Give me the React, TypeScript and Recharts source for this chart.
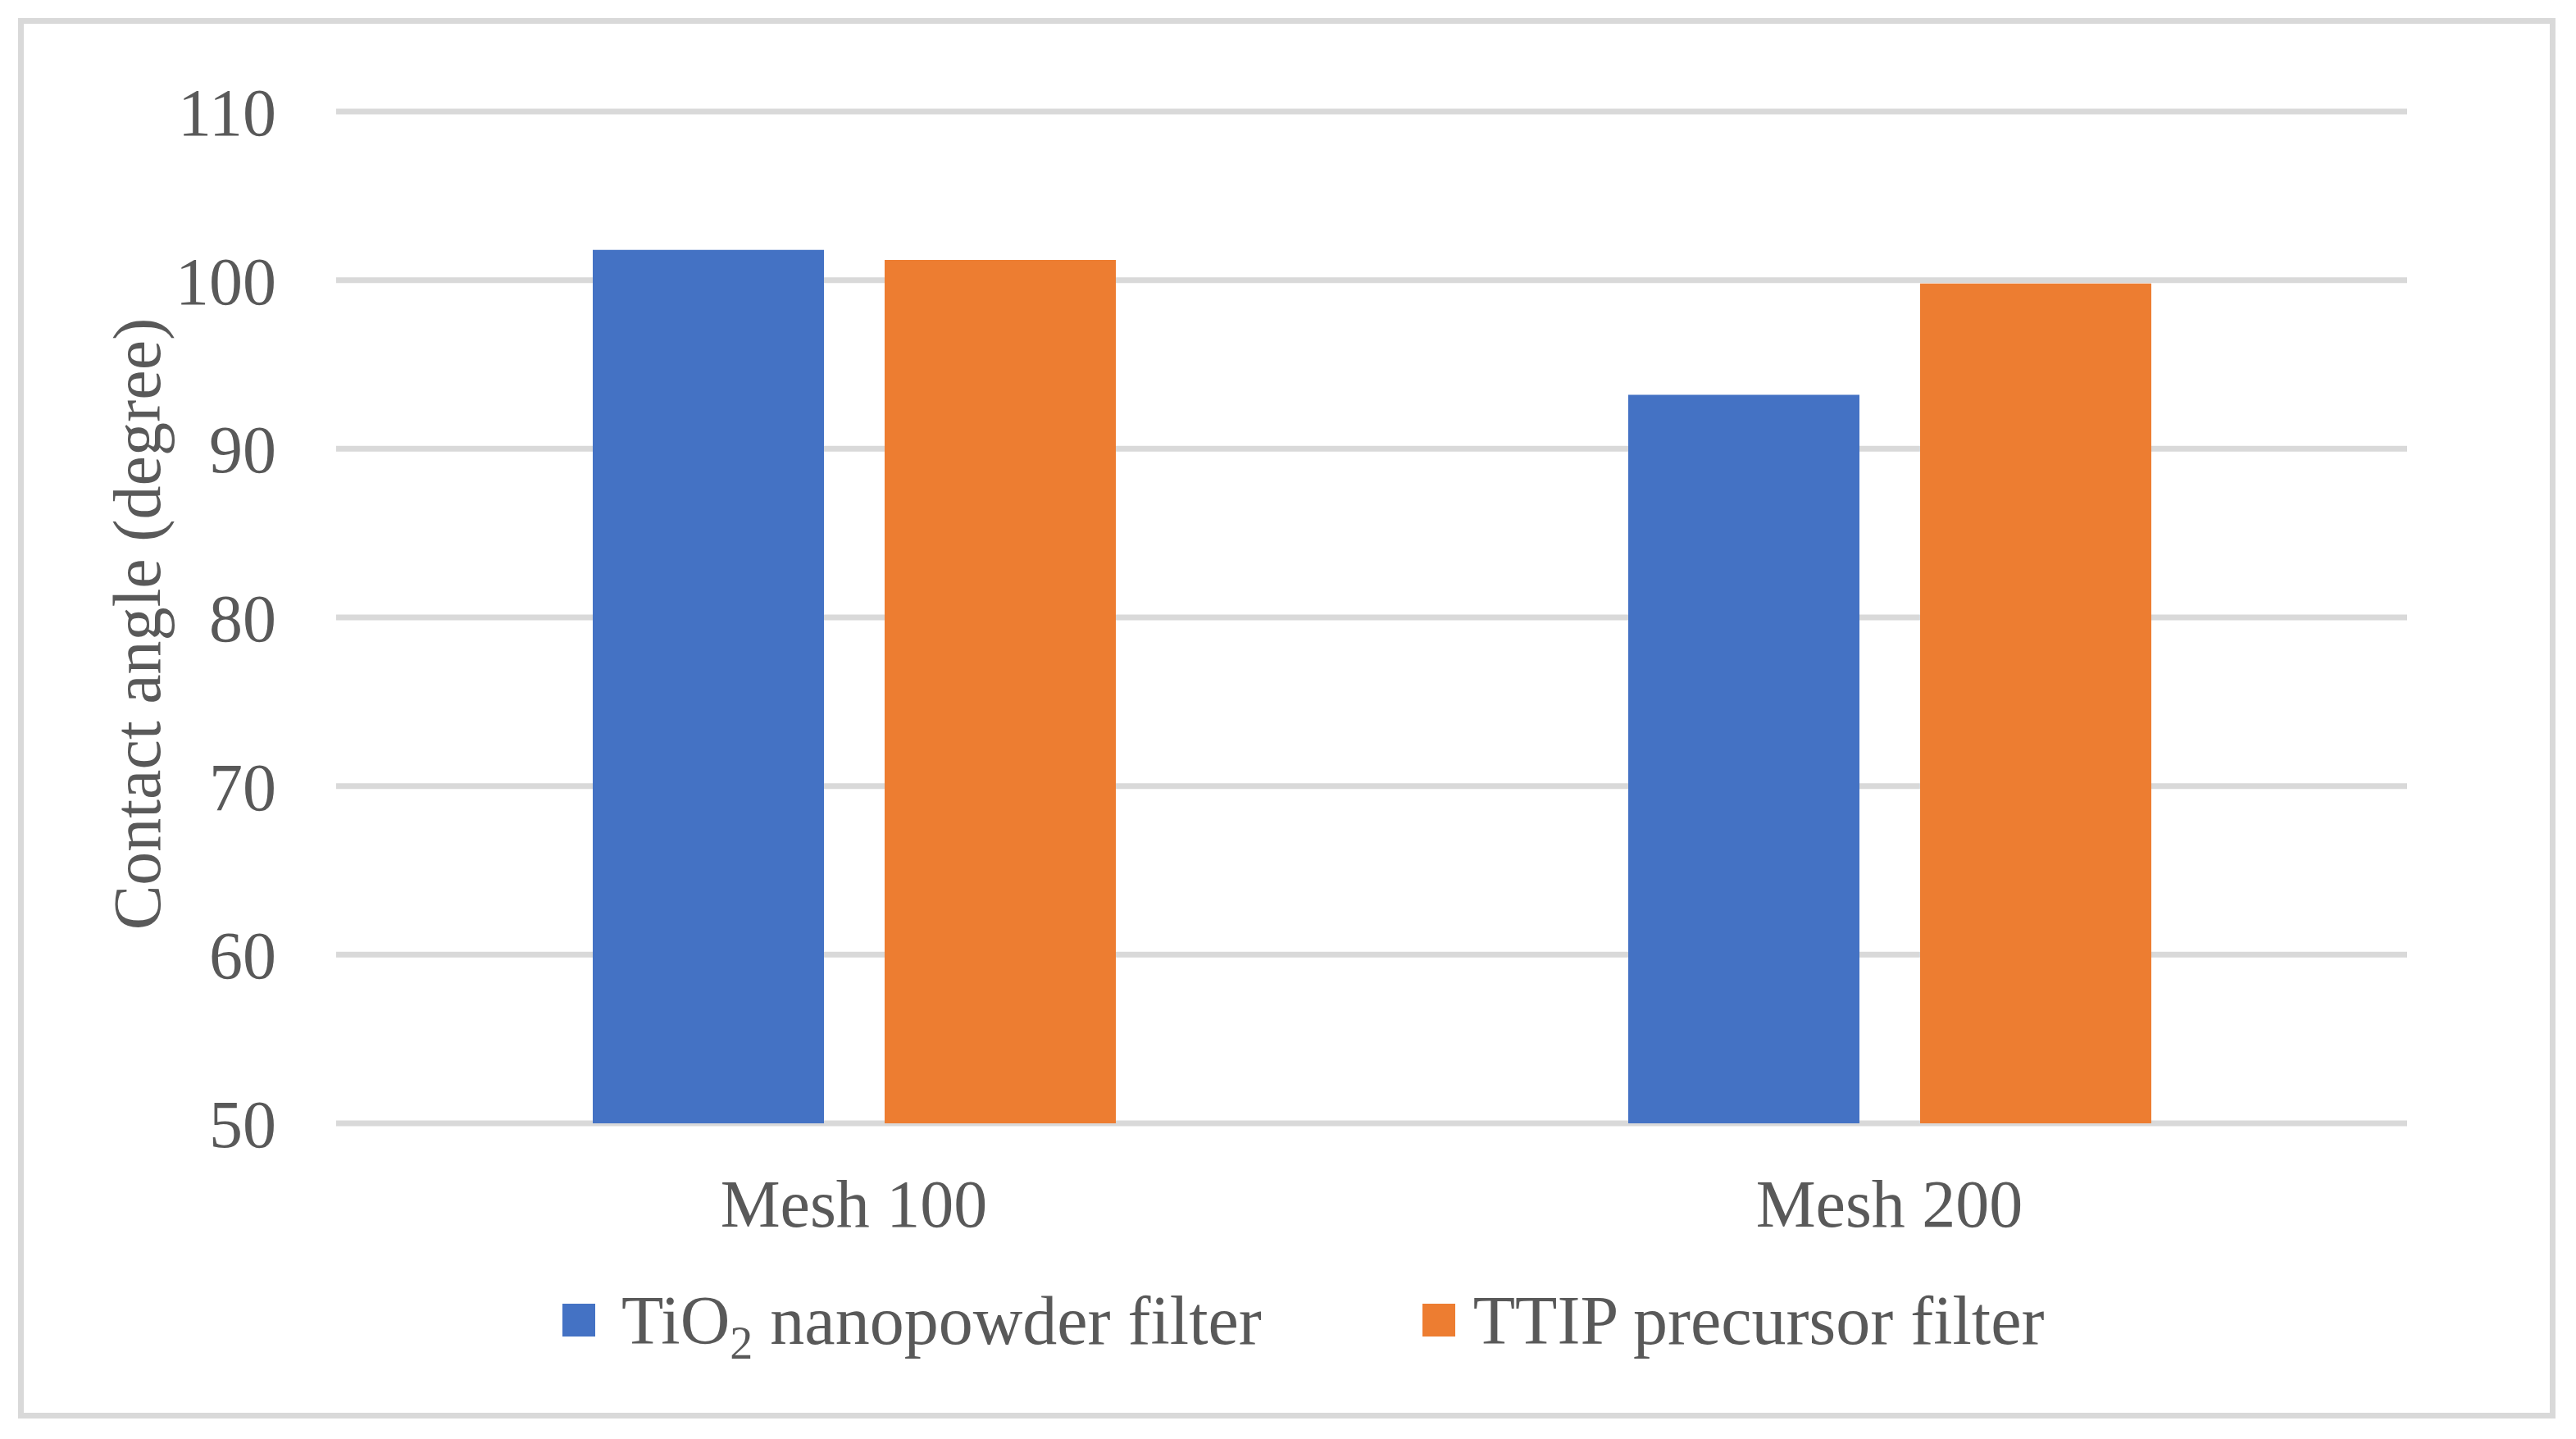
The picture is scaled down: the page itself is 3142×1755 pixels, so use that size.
import React from 'react'
import { BarChart, Bar, XAxis, YAxis, CartesianGrid } from 'recharts'

const categories = ['Mesh 100', 'Mesh 200']
const tio2Values = [101.8, 93.2]
const ttipValues = [101.2, 99.8]
const yTicks = [50, 60, 70, 80, 90, 100, 110]

const series = [
  { key: 'tio2', name: 'TiO', sub: '2', rest: ' nanopowder filter', color: '#4472C4' },
  { key: 'ttip', name: 'TTIP precursor filter', sub: '', rest: '', color: '#ED7D31' },
]

const data = categories.map((c, i) => ({ name: c, tio2: tio2Values[i], ttip: ttipValues[i] }))

const FONT = '"Liberation Serif", "Times New Roman", serif'
const TEXT = '#595959'
const GRID = '#d9d9d9'

const YLabel = (props: any) => {
  const vb = props.viewBox || {}
  const cx = 167
  const cy = vb.y + vb.height / 2 + 8
  return (
    <text x={cx} y={cy} transform={`rotate(-90 ${cx} ${cy})`} textAnchor="middle" dominantBaseline="central"
      fill={TEXT} fontSize={82} fontFamily={FONT}>
      Contact angle (degree)
    </text>
  )
}

export default function App() {
  return (
    <div style={{ position: 'absolute', left: 0, top: 0, width: 3142, height: 1755, background: '#fff', fontFamily: FONT }}>
      <div style={{ position: 'absolute', left: 22, top: 22, width: 3095, height: 1708, border: `7px solid ${GRID}`, boxSizing: 'border-box' }} />
      <BarChart width={3142} height={1755} data={data} margin={{ top: 136, right: 206, bottom: 285, left: 0 }}
        barSize={282} barGap={74}>
        <CartesianGrid horizontal vertical={false} stroke={GRID} strokeWidth={7} />
        <XAxis dataKey="name" axisLine={false} tickLine={false} tickSize={0} tickMargin={68} height={100}
          tick={{ fill: TEXT, fontSize: 82, fontFamily: FONT }} />
        <YAxis domain={[50, 110]} ticks={yTicks} axisLine={false} tickLine={false} tickSize={0} tickMargin={73}
          width={410} tick={{ fill: TEXT, fontSize: 82, fontFamily: FONT }} label={<YLabel />} />
        {series.map((s) => (
          <Bar key={s.key} dataKey={s.key} fill={s.color} isAnimationActive={false} />
        ))}
      </BarChart>
      <div style={{ position: 'absolute', top: 1560, left: 686, height: 100, display: 'flex', alignItems: 'center' }}>
        {series.map((s, i) => (
          <div key={s.key} style={{ display: 'flex', alignItems: 'center', marginLeft: i === 0 ? 0 : 196 }}>
            <div style={{ width: 40, height: 40, background: s.color, marginRight: i === 0 ? 32 : 22 }} />
            <span style={{ fontSize: 84, color: TEXT, fontFamily: FONT, whiteSpace: 'nowrap' }}>
              {s.name}
              {s.sub && <sub style={{ fontSize: 56, verticalAlign: 'baseline', position: 'relative', top: 18 }}>{s.sub}</sub>}
              {s.rest}
            </span>
          </div>
        ))}
      </div>
    </div>
  )
}
